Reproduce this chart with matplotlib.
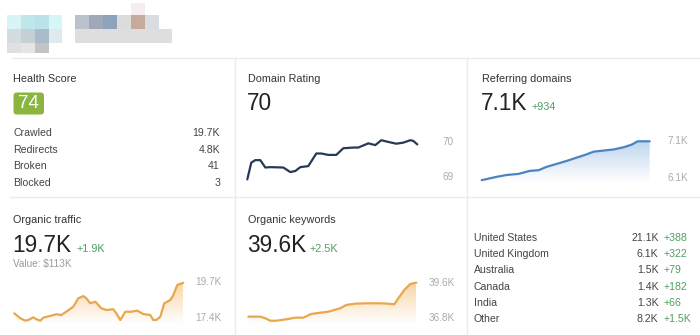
import numpy as np
import matplotlib
matplotlib.use("Agg")
import matplotlib.pyplot as plt
from matplotlib.patches import Rectangle, FancyBboxPatch

plt.rcParams['font.family'] = ['Liberation Sans', 'DejaVu Sans']

W, H = 700, 335

# --- data ---
health_score = 74
crawl_labels = ["Crawled", "Redirects", "Broken", "Blocked"]
crawl_values = ["19.7K", "4.8K", "41", "3"]

dr_days = [0, 4, 8, 13, 18, 23, 36, 43, 48, 53, 61, 69, 74, 81, 89, 96, 106,
           111, 121, 128, 134, 141, 149, 156, 163, 166, 170]
dr_values = [68.94, 69.42, 69.49, 69.49, 69.28, 69.29, 69.28, 69.15, 69.18,
             69.29, 69.32, 69.68, 69.68, 69.64, 69.64, 69.83, 69.85, 69.85,
             69.97, 69.92, 70.06, 70.01, 69.96, 69.99, 70.06, 70.04, 69.94]

rd_days = [0, 15, 25, 37, 48, 57, 65, 75, 85, 95, 103, 112, 122, 132, 142,
           150, 156, 168]
rd_values = [6.05, 6.14, 6.19, 6.22, 6.30, 6.32, 6.41, 6.49, 6.57, 6.66, 6.73,
             6.82, 6.85, 6.88, 6.94, 7.01, 7.10, 7.10]

ot_days = [0, 6, 11, 14, 19, 22, 26, 29, 36, 42, 47, 52, 59, 64, 69, 72, 76,
           81, 87, 92, 99, 102, 106, 111, 117, 123, 129, 136, 139, 142, 146,
           150, 156, 159, 163, 169]
ot_values = [17.72, 17.40, 17.25, 17.29, 17.46, 17.34, 17.25, 17.44, 17.55,
             17.66, 17.61, 17.82, 18.14, 18.68, 18.82, 18.68, 18.36, 18.46,
             18.04, 17.93, 17.98, 17.72, 17.29, 17.82, 17.82, 17.89, 17.67,
             17.61, 17.29, 17.29, 17.50, 18.36, 18.57, 18.89, 19.53, 19.67]

ok_days = [0, 5, 12, 17, 22, 28, 38, 47, 55, 63, 72, 80, 92, 98, 107, 118,
           132, 140, 146, 150, 156, 162, 168]
ok_values = [36.93, 36.93, 36.93, 36.80, 36.61, 36.61, 36.72, 36.85, 36.85,
             37.14, 37.24, 37.32, 37.59, 37.85, 37.95, 37.98, 37.98, 37.95,
             37.90, 38.37, 39.03, 39.50, 39.60]

countries = ["United States", "United Kingdom", "Australia", "Canada", "India", "Other"]
country_traffic = ["21.1K", "6.1K", "1.5K", "1.4K", "1.3K", "8.2K"]
country_change = ["+388", "+322", "+79", "+182", "+66", "+1.5K"]

GREEN = "#4f9e62"
GREY_LBL = "#ababab"

fig = plt.figure(figsize=(W / 100, H / 100), dpi=100)
bg = fig.add_axes([0, 0, 1, 1])
bg.set_xlim(0, W)
bg.set_ylim(H, 0)
bg.axis("off")

# blurred header logo blocks
logo = [
    (7, 15, 14, 14, "#d9f4f7"), (21, 15, 14, 14, "#bfe6ea"), (35, 15, 14, 14, "#b9e3e7"), (49, 15, 13, 14, "#d6f6f8"),
    (7, 29, 14, 14, "#d3dcdf"), (21, 29, 14, 14, "#c3d0d5"), (35, 29, 14, 14, "#a9bccc"), (49, 29, 13, 14, "#e0e9ee"),
    (7, 43, 14, 10, "#e0e0e0"), (21, 43, 14, 10, "#e5e5e5"), (35, 43, 14, 10, "#c4c4c4"),
    (75, 15, 14, 14, "#bcc2cb"), (89, 15, 14, 14, "#9ea8b6"), (103, 15, 14, 14, "#8ea3ba"), (117, 15, 14, 14, "#dcdcdc"),
    (131, 15, 14, 14, "#c6ab9c"), (145, 15, 14, 14, "#d8dde4"),
    (75, 29, 97, 14, "#dedede"), (131, 3, 14, 12, "#f6eeee"),
]
for x, y, w, h, c in logo:
    bg.add_patch(Rectangle((x, y), w, h, color=c, lw=0))

# separators
sep = "#ebebeb"
bg.plot([12, W], [58, 58], color=sep, lw=1)
bg.plot([10, W], [197, 197], color=sep, lw=1)
bg.plot([235, 235], [58, H], color=sep, lw=1)
bg.plot([467, 467], [58, H], color=sep, lw=1)

title_kw = dict(fontsize=7.8, color="#333333", va="baseline")
big_kw = dict(fontsize=16.3, color="#222222", va="baseline")
delta_kw = dict(fontsize=7.8, color=GREEN, va="baseline")

# Health score panel
bg.text(13, 82, "Health Score", **title_kw)
bg.add_patch(FancyBboxPatch((13.5, 92.5), 30.5, 22, boxstyle="round,pad=0,rounding_size=3",
                            fc="#8ab53f", ec="none"))
bg.text(28.8, 104, str(health_score), fontsize=13.5, color="white", ha="center", va="center")
for i, (lab, val) in enumerate(zip(crawl_labels, crawl_values)):
    yb = 136 + i * 16.7
    bg.text(13, yb, lab, fontsize=7.6, color="#444444", va="baseline")
    bg.text(220, yb, val, fontsize=7.6, color="#444444", va="baseline", ha="right")

# Domain rating panel
bg.text(248, 82, "Domain Rating", **title_kw)
bg.text(247, 110.5, "70", **big_kw)

# Referring domains
bg.text(481.5, 82, "Referring domains", **title_kw)
bg.text(481, 110.5, "7.1K", **big_kw)
bg.text(531.5, 110.5, "+934", **delta_kw)

# Organic traffic
bg.text(13, 223, "Organic traffic", **title_kw)
bg.text(12.5, 251.5, "19.7K", **big_kw)
bg.text(76.5, 251.5, "+1.9K", **delta_kw)
bg.text(13, 267.3, "Value: $113K", fontsize=7.2, color="#9a9a9a", va="baseline")

# Organic keywords
bg.text(248, 223, "Organic keywords", **title_kw)
bg.text(247, 251.5, "39.6K", **big_kw)
bg.text(310, 251.5, "+2.5K", **delta_kw)

# Country table
for i, (c, v, d) in enumerate(zip(countries, country_traffic, country_change)):
    yb = 240.6 + i * 16.3
    bg.text(474, yb, c, fontsize=7.6, color="#444444", va="baseline")
    bg.text(658.5, yb, v, fontsize=7.6, color="#444444", va="baseline", ha="right")
    bg.text(663.5, yb, d, fontsize=7.6, color=GREEN, va="baseline")


def spark(left, right, top, bottom, xs, ys, lo, hi, p_lo, p_hi, labels, lbl_x,
          color, fill=None):
    ax = fig.add_axes([left / W, 1 - bottom / H, (right - left) / W, (bottom - top) / H])
    ax.axis("off")
    per_px = (hi - lo) / (p_lo - p_hi)
    ax.set_ylim(lo - (bottom - p_lo) * per_px, hi + (p_hi - top) * per_px)
    ax.set_xlim(xs[0], xs[-1])
    if fill is not None:
        y0 = ax.get_ylim()[0]
        poly = ax.fill_between(xs, ys, y0, facecolor="none", edgecolor="none")
        grad = np.zeros((100, 1, 4))
        grad[..., :3] = matplotlib.colors.to_rgb(fill)
        grad[:, 0, 3] = np.linspace(0.0, 0.75, 100)
        im = ax.imshow(grad, aspect="auto", origin="lower",
                       extent=[xs[0], xs[-1], y0, max(ys)], zorder=1)
        im.set_clip_path(poly.get_paths()[0], transform=ax.transData)
    ax.plot(xs, ys, color=color, lw=1.6, solid_joinstyle="round",
            solid_capstyle="round", zorder=2, clip_on=False)
    for val, txt in labels:
        ax.text(lbl_x, val, txt, transform=ax.get_yaxis_transform(), fontsize=7.2,
                color=GREY_LBL, va="center", ha="left", clip_on=False)
    return ax


spark(247.3, 417.3, 136, 184, dr_days, dr_values, 69, 70, 177.3, 142.3,
      [(70, "70"), (69, "69")], (442.7 - 247.3) / 170, "#263a55")
spark(481.7, 649.7, 136, 182, rd_days, rd_values, 6.1, 7.1, 178.3, 141.3,
      [(7.1, "7.1K"), (6.1, "6.1K")], (667.7 - 481.7) / 168, "#4a84c2", fill="#a9c8ea")
spark(14.3, 183.3, 277, 324, ot_days, ot_values, 17.4, 19.7, 318.3, 282.3,
      [(19.7, "19.7K"), (17.4, "17.4K")], (195 - 14.3) / 169, "#e9a74d", fill="#f6c787")
spark(248.3, 416.3, 277, 324, ok_days, ok_values, 36.8, 39.6, 318.3, 282.7,
      [(39.6, "39.6K"), (36.8, "36.8K")], (428.3 - 248.3) / 168, "#e9a74d", fill="#f6c787")

fig.savefig("out.png", dpi=100)
